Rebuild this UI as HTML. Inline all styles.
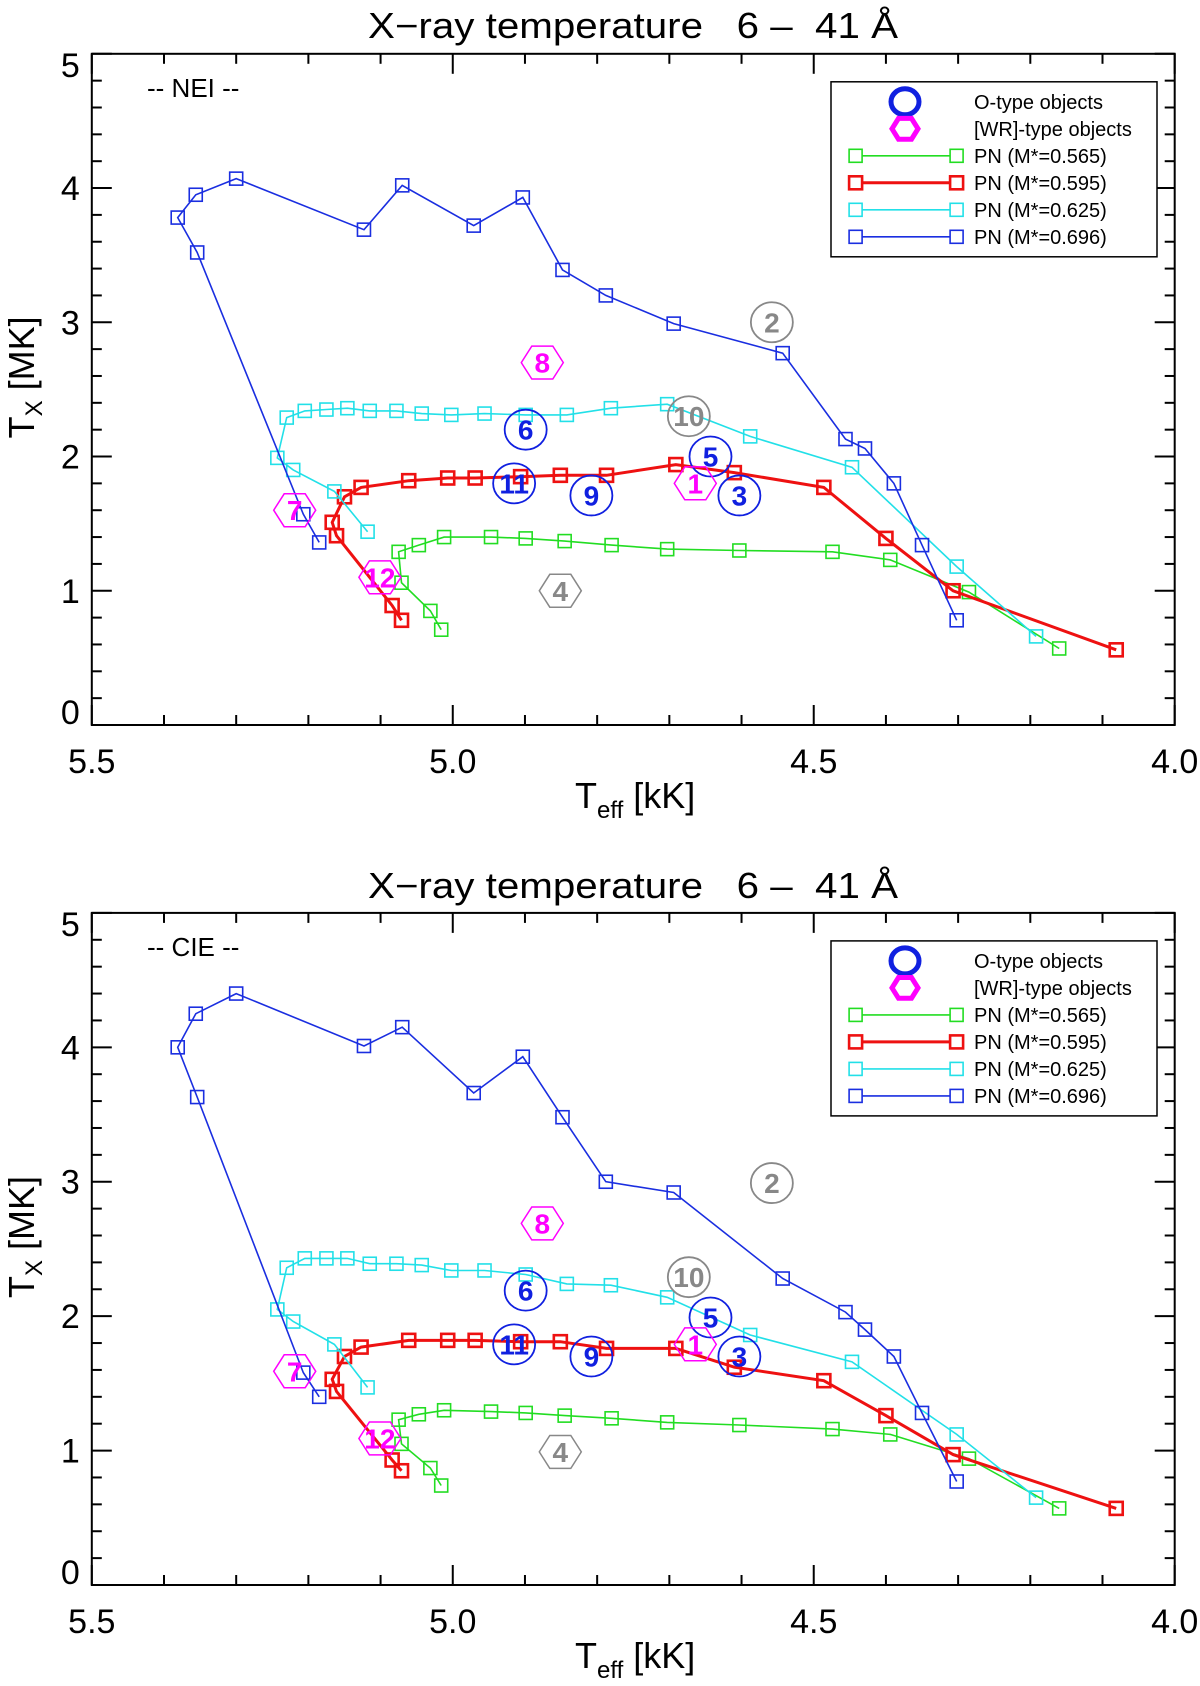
<!DOCTYPE html>
<html><head><meta charset="utf-8">
<style>
html,body{margin:0;padding:0;background:#fff;}
svg{display:block;font-family:"Liberation Sans",sans-serif;}
</style></head>
<body>
<svg id="fig" width="1200" height="1686" viewBox="0 0 1200 1686" xmlns="http://www.w3.org/2000/svg"></svg>
<script>
// ---- data ----
const xBlue = [5.185,5.207,5.354,5.381,5.356,5.300,5.123,5.070,4.971,4.903,4.848,4.788,4.694,4.543,4.456,4.429,4.389,4.350,4.302];
const yBlueNEI = [1.36,1.57,3.52,3.78,3.95,4.07,3.69,4.02,3.72,3.93,3.39,3.20,2.99,2.77,2.13,2.06,1.80,1.34,0.78];
const yBlueCIE = [1.40,1.58,3.63,4.00,4.25,4.40,4.01,4.15,3.66,3.93,3.48,3.00,2.92,2.28,2.03,1.90,1.70,1.28,0.77];
const xCyan = [5.118,5.164,5.221,5.243,5.230,5.205,5.175,5.146,5.115,5.078,5.043,5.002,4.956,4.899,4.842,4.781,4.703,4.588,4.447,4.302,4.192];
const yCyanNEI = [1.44,1.74,1.90,1.99,2.29,2.34,2.35,2.36,2.34,2.34,2.32,2.31,2.32,2.31,2.31,2.36,2.39,2.15,1.92,1.18,0.66];
const yCyanCIE = [1.47,1.79,1.96,2.05,2.36,2.43,2.43,2.43,2.39,2.39,2.38,2.34,2.34,2.31,2.24,2.23,2.14,1.86,1.66,1.12,0.65];
const xRed = [5.071,5.084,5.161,5.167,5.150,5.127,5.061,5.007,4.969,4.906,4.851,4.787,4.691,4.610,4.486,4.400,4.307,4.081];
const yRedNEI = [0.78,0.89,1.41,1.51,1.70,1.77,1.82,1.84,1.84,1.85,1.86,1.86,1.94,1.88,1.77,1.39,1.00,0.56];
const yRedCIE = [0.85,0.93,1.44,1.53,1.70,1.77,1.82,1.82,1.82,1.81,1.81,1.76,1.76,1.62,1.52,1.26,0.97,0.57];
const xGreen = [5.016,5.031,5.071,5.075,5.047,5.012,4.947,4.899,4.845,4.780,4.703,4.603,4.474,4.394,4.285,4.160];
const yGreenNEI = [0.71,0.85,1.06,1.29,1.34,1.40,1.40,1.39,1.37,1.34,1.31,1.30,1.29,1.23,0.99,0.57];
const yGreenCIE = [0.74,0.87,1.05,1.23,1.27,1.30,1.29,1.28,1.26,1.24,1.21,1.19,1.16,1.12,0.94,0.57];
// objects: label, kind, x
const objLabels = ["6","11","9","5","3","2","10","8","7","12","1","4"];
const objKinds = ["O","O","O","O","O","Og","Og","W","W","W","W","Wg"];
const objX = [4.899,4.915,4.808,4.643,4.603,4.558,4.673,4.876,5.219,5.101,4.664,4.851];
const objYNEI = [2.20,1.80,1.71,2.00,1.71,3.00,2.30,2.70,1.60,1.10,1.80,1.00];
const objYCIE = [2.19,1.79,1.70,1.99,1.70,2.99,2.29,2.69,1.59,1.09,1.79,0.99];
const xTicks = ["5.5","5.0","4.5","4.0"];
const yTicks = ["0","1","2","3","4","5"];

const NS="http://www.w3.org/2000/svg";
const svg=document.getElementById('fig');
function mk(tag,attrs,parent){const e=document.createElementNS(NS,tag);for(const k in attrs)e.setAttribute(k,attrs[k]);(parent||svg).appendChild(e);return e;}

const L=91.8,R=1174.7;
function panel(off, fTop, fBot, tag, yb, yr, yc, yg, oy){
  const g=mk('g',{});
  
  
  const X=v=>L+(5.5-v)/1.5*(R-L);
  const Y=v=>fTop+(5-v)*(fBot-fTop)/5;
  // title
  const t=mk('text',{x:633,y:off+38,'font-size':36,'text-anchor':'middle',fill:'#000',textLength:530,lengthAdjust:'spacingAndGlyphs',style:'white-space:pre'},g);
  t.textContent="X\u2212ray temperature   6 \u2013  41 \u00c5";
  
  
  // frame
  const fr=mk('rect',{x:L,y:fTop,width:R-L,height:fBot-fTop,fill:'none',stroke:'#000','stroke-width':2},g);
  
  
  // x ticks
  for(let i=0;i<=15;i++){const v=5.5-i*0.1;const xx=X(v);const len=(i%5==0)?20:10;
    mk('line',{x1:xx,x2:xx,y1:fBot,y2:fBot-len,stroke:'#000','stroke-width':2},g);
    mk('line',{x1:xx,x2:xx,y1:fTop,y2:fTop+len,stroke:'#000','stroke-width':2},g);}
  xTicks.forEach(s=>{const tx=mk('text',{x:X(parseFloat(s)),y:fBot+48,'font-size':34,'text-anchor':'middle'},g);tx.textContent=s;
    
    });
  // y ticks
  for(let i=0;i<=25;i++){const v=i*0.2;const yy=Y(v);const len=(i%5==0)?20:10;
    mk('line',{x1:L,x2:L+len,y1:yy,y2:yy,stroke:'#000','stroke-width':2},g);
    mk('line',{x1:R,x2:R-len,y1:yy,y2:yy,stroke:'#000','stroke-width':2},g);}
  yTicks.forEach(s=>{const v=parseFloat(s);const dy=v==0?-1:(v==5?23:12);
    const ty=mk('text',{x:L-12,y:Y(v)+dy,'font-size':34,'text-anchor':'end'},g);ty.textContent=s;
    
    });
  // axis titles
  const xt=mk('text',{x:575,y:off+808,'font-size':36},g);
  xt.innerHTML='T<tspan font-size="24" dy="10">eff</tspan><tspan dy="-10"> [kK]</tspan>';
  
  
  const yt=mk('text',{x:0,y:0,'font-size':36,transform:`translate(34,${(fTop+fBot)/2-12}) rotate(-90)`,'text-anchor':'middle'},g);
  yt.innerHTML='T<tspan font-size="24" dy="8">X</tspan><tspan dy="-8"> [MK]</tspan>';
  
  
  // mode label
  const ml=mk('text',{x:147,y:fTop+43,'font-size':26},g);
  ml.textContent="-- "+tag+" --";
  
  
  // series
  const series=[[xGreen,yg,'#22dd22',1.6,'series-m0565'],[xRed,yr,'#ee1111',3,'series-m0595'],[xCyan,yc,'#22e0e8',1.6,'series-m0625'],[xBlue,yb,'#1a2ee0',1.6,'series-m0696']];
  series.forEach(([xs,ys,col,w,name])=>{
    const sg=mk('g',{},g);
    
    
    const pts=xs.map((x,i)=>X(x).toFixed(1)+','+Y(ys[i]).toFixed(1)).join(' ');
    mk('polyline',{points:pts,fill:'none',stroke:col,'stroke-width':w},sg);
    xs.forEach((x,i)=>{const s=mk('rect',{x:X(x)-6.5,y:Y(ys[i])-6.5,width:13,height:13,fill:'none',stroke:col,'stroke-width':w>2?2.6:1.6},sg);
      
      });
  });
  // objects
  objLabels.forEach((lab,i)=>{
    const cx=X(objX[i]),cy=Y(oy[i]);
    const k=objKinds[i];
    const col=k=='O'?'#1020e0':(k=='W'?'#ff00ff':'#888');
    const og=mk('g',{},g);
    
    
    if(k[0]=='O'){mk('ellipse',{cx:cx,cy:cy,rx:21,ry:20,fill:'none',stroke:col,'stroke-width':1.8},og);}
    else{let p=[];for(let a=0;a<6;a++){const an=Math.PI/3*a;p.push((cx+21*Math.cos(an)).toFixed(1)+','+(cy+19*Math.sin(an)).toFixed(1));}
      mk('polygon',{points:p.join(' '),fill:'none',stroke:col,'stroke-width':1.5},og);}
    const tt=mk('text',{x:cx,y:cy+10,'font-size':28,'font-weight':'bold','text-anchor':'middle',fill:col},og);
    tt.textContent=lab;
  });
  // legend
  const lg=mk('g',{},g);
  
  
  const lt=fTop+28;
  mk('rect',{x:831,y:lt,width:326,height:175,fill:'#fff',stroke:'#000','stroke-width':1.5},lg);
  mk('ellipse',{cx:905,cy:lt+20,rx:14,ry:13,fill:'none',stroke:'#1020e0','stroke-width':5},lg);
  let hp=[];for(let a=0;a<6;a++){const an=Math.PI/3*a;hp.push((905+13*Math.cos(an)).toFixed(1)+','+(lt+47+12*Math.sin(an)).toFixed(1));}
  mk('polygon',{points:hp.join(' '),fill:'none',stroke:'#ff00ff','stroke-width':5},lg);
  const names=["O-type objects","[WR]-type objects","PN (M*=0.565)","PN (M*=0.595)","PN (M*=0.625)","PN (M*=0.696)"];
  const cols=[null,null,'#22dd22','#ee1111','#22e0e8','#1a2ee0'];
  names.forEach((n,i)=>{
    const yy=lt+20+i*27;
    const le=mk('g',{},lg);
    
    
    if(cols[i]){const w=i==3?3:1.6;
      mk('line',{x1:855.6,x2:956.6,y1:yy,y2:yy,stroke:cols[i],'stroke-width':w},le);
      [855.6,956.6].forEach(xx=>mk('rect',{x:xx-6.5,y:yy-6.5,width:13,height:13,fill:'#fff',stroke:cols[i],'stroke-width':w>2?2.6:1.6},le));}
    const tx=mk('text',{x:974,y:yy+7,'font-size':20},le);
    tx.textContent=n;
  });
}
panel(0, 53.8, 725, 'NEI', yBlueNEI, yRedNEI, yCyanNEI, yGreenNEI, objYNEI);
panel(860, 912.9, 1585, 'CIE', yBlueCIE, yRedCIE, yCyanCIE, yGreenCIE, objYCIE);
</script>
</body></html>
